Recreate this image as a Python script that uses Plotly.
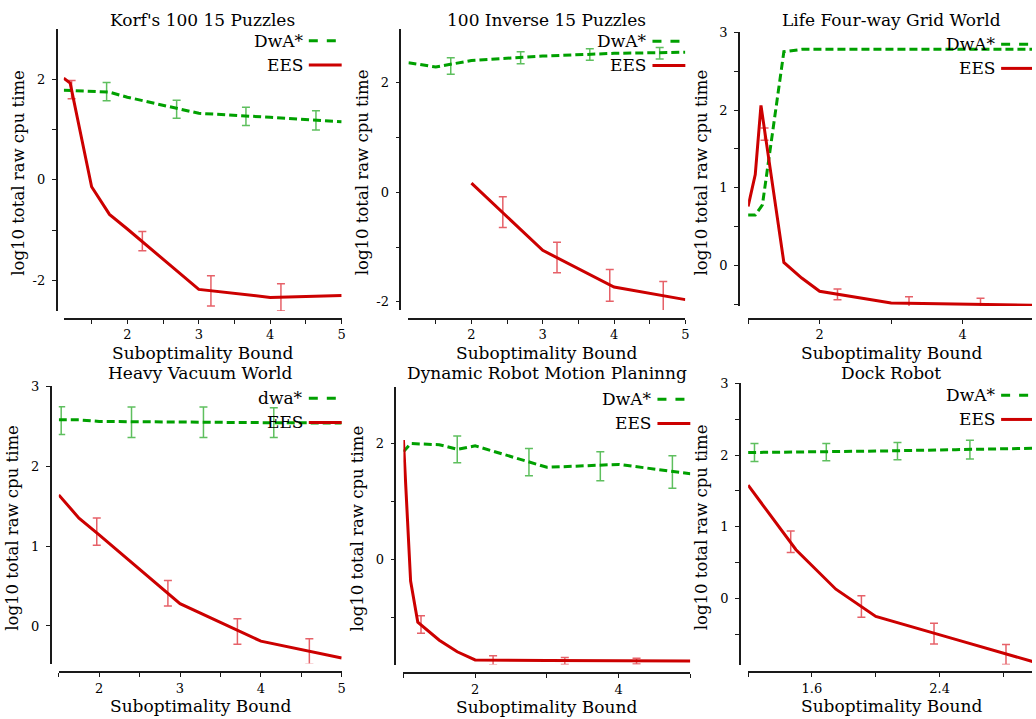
import plotly.graph_objects as go

# ---------------- data ----------------
TITLES = ["Korf's 100 15 Puzzles", "100 Inverse 15 Puzzles", "Life Four-way Grid World",
          "Heavy Vacuum World", "Dynamic Robot Motion Planinng", "Dock Robot"]
DWA_NAMES = ["DwA*", "DwA*", "DwA*", "dwa*", "DwA*", "DwA*"]
EES_NAME = "EES"
X_TITLE = "Suboptimality Bound"
Y_TITLE = "log10 total raw cpu time"

# Korf's 100 15 Puzzles
KORF_DWA_X = [1.11, 1.75, 2, 3, 4, 5]
KORF_DWA_Y = [1.78, 1.74, 1.64, 1.32, 1.24, 1.15]
KORF_DWA_ERR_X = [1.71, 2.69, 3.66, 4.64]
KORF_DWA_ERR_Y = [1.75, 1.40, 1.26, 1.18]
KORF_DWA_ERR = [0.18, 0.18, 0.18, 0.19]
KORF_EES_X = [1.11, 1.2, 1.5, 1.75, 2, 3, 4, 5]
KORF_EES_Y = [2.02, 1.92, -0.14, -0.69, -0.98, -2.18, -2.34, -2.30]
KORF_EES_ERR_X = [1.22, 2.21, 3.17, 4.15]
KORF_EES_ERR_Y = [1.79, -1.22, -2.21, -2.34]
KORF_EES_ERR = [0.18, 0.19, 0.30, 0.27]

# 100 Inverse 15 Puzzles
INV_DWA_X = [1.116, 1.5, 2, 3, 4, 5]
INV_DWA_Y = [2.37, 2.29, 2.41, 2.49, 2.54, 2.56]
INV_DWA_ERR_X = [1.71, 2.69, 3.66, 4.64]
INV_DWA_ERR_Y = [2.31, 2.46, 2.52, 2.54]
INV_DWA_ERR = [0.15, 0.11, 0.105, 0.105]
INV_EES_X = [2, 3, 4, 5]
INV_EES_Y = [0.17, -1.06, -1.73, -1.96]
INV_EES_ERR_X = [2.44, 3.20, 3.94, 4.69]
INV_EES_ERR_Y = [-0.36, -1.19, -1.70, -1.90]
INV_EES_ERR = [0.28, 0.28, 0.29, 0.27]

# Life Four-way Grid World
LIFE_DWA_X = [1.0, 1.1, 1.2, 1.5, 1.75, 2, 3, 4, 5]
LIFE_DWA_Y = [0.65, 0.65, 0.78, 2.75, 2.78, 2.78, 2.78, 2.78, 2.78]
LIFE_DWA_ERR_X = []
LIFE_DWA_ERR_Y = []
LIFE_DWA_ERR = []
LIFE_EES_X = [1.0, 1.1, 1.18, 1.5, 1.75, 2, 3, 4, 5]
LIFE_EES_Y = [0.76, 1.17, 2.06, 0.04, -0.16, -0.33, -0.48, -0.50, -0.51]
LIFE_EES_ERR_X = [1.23, 2.25, 3.25, 4.25]
LIFE_EES_ERR_Y = [1.69, -0.37, -0.48, -0.50]
LIFE_EES_ERR = [0.08, 0.07, 0.08, 0.08]

# Heavy Vacuum World
VAC_DWA_X = [1.5, 1.75, 2, 3, 4, 5]
VAC_DWA_Y = [2.58, 2.58, 2.56, 2.55, 2.545, 2.54]
VAC_DWA_ERR_X = [1.53, 2.40, 3.29, 4.16]
VAC_DWA_ERR_Y = [2.57, 2.55, 2.55, 2.545]
VAC_DWA_ERR = [0.175, 0.19, 0.19, 0.185]
VAC_EES_X = [1.5, 1.75, 2, 3, 4, 5]
VAC_EES_Y = [1.64, 1.35, 1.14, 0.28, -0.19, -0.40]
VAC_EES_ERR_X = [1.97, 2.85, 3.71, 4.60]
VAC_EES_ERR_Y = [1.18, 0.41, -0.07, -0.32]
VAC_EES_ERR = [0.17, 0.16, 0.16, 0.16]

# Dynamic Robot Motion Planning
DYN_DWA_X = [1.0, 1.1, 1.5, 1.75, 2, 3, 4, 5]
DYN_DWA_Y = [1.86, 2.0, 1.98, 1.90, 1.96, 1.59, 1.64, 1.48]
DYN_DWA_ERR_X = [1.75, 2.75, 3.745, 4.75]
DYN_DWA_ERR_Y = [1.90, 1.68, 1.61, 1.51]
DYN_DWA_ERR = [0.23, 0.235, 0.25, 0.28]
DYN_EES_X = [1.0, 1.1, 1.2, 1.5, 1.75, 2, 3, 4, 5]
DYN_EES_Y = [2.06, -0.37, -1.08, -1.39, -1.59, -1.73, -1.74, -1.74, -1.75]
DYN_EES_ERR_X = [1.245, 2.25, 3.25, 4.25]
DYN_EES_ERR_Y = [-1.12, -1.74, -1.75, -1.75]
DYN_EES_ERR = [0.15, 0.08, 0.06, 0.05]

# Dock Robot
DOCK_DWA_X = [1.2, 1.5, 2.0, 2.5, 3.0]
DOCK_DWA_Y = [2.035, 2.04, 2.055, 2.075, 2.095]
DOCK_DWA_ERR_X = [1.24, 1.69, 2.136, 2.59]
DOCK_DWA_ERR_Y = [2.035, 2.04, 2.055, 2.075]
DOCK_DWA_ERR = [0.125, 0.12, 0.12, 0.13]
DOCK_EES_X = [1.2, 1.5, 1.75, 2.0, 2.5, 3.0]
DOCK_EES_Y = [1.58, 0.68, 0.13, -0.25, -0.57, -0.89]
DOCK_EES_ERR_X = [1.467, 1.91, 2.365, 2.816]
DOCK_EES_ERR_Y = [0.79, -0.11, -0.49, -0.78]
DOCK_EES_ERR = [0.15, 0.15, 0.145, 0.14]

# Tick marks / labels per panel
X_TICKS = [[1.5, 2, 2.5, 3, 3.5, 4, 4.5, 5], [1.5, 2, 2.5, 3, 3.5, 4, 4.5, 5], [1, 2, 3, 4, 5],
           [1.5, 2, 2.5, 3, 3.5, 4, 4.5, 5], [1, 2, 3, 4, 5], [1.2, 1.6, 2.0, 2.4, 2.8]]
X_LABELS = [["", "2", "", "3", "", "4", "", "5"], ["", "2", "", "3", "", "4", "", "5"],
            ["", "2", "", "4", ""], ["", "2", "", "3", "", "4", "", "5"],
            ["", "2", "", "4", ""], ["", "1.6", "", "2.4", ""]]
Y_TICKS = [[-2, -1, 0, 1, 2], [-2, -1, 0, 1, 2], [-0.5, 0, 0.5, 1, 1.5, 2, 2.5, 3],
           [0, 1, 2, 3], [-1, 0, 1, 2], [-0.5, 0, 0.5, 1, 1.5, 2, 2.5, 3]]
Y_LABELS = [["-2", "", "0", "", "2"], ["-2", "", "0", "", "2"],
            ["", "0", "", "1", "", "2", "", "3"], ["0", "1", "2", "3"],
            ["", "0", "", "2"], ["", "0", "", "1", "", "2", "", "3"]]

SERIES = [
    (KORF_DWA_X, KORF_DWA_Y, KORF_DWA_ERR_X, KORF_DWA_ERR_Y, KORF_DWA_ERR,
     KORF_EES_X, KORF_EES_Y, KORF_EES_ERR_X, KORF_EES_ERR_Y, KORF_EES_ERR),
    (INV_DWA_X, INV_DWA_Y, INV_DWA_ERR_X, INV_DWA_ERR_Y, INV_DWA_ERR,
     INV_EES_X, INV_EES_Y, INV_EES_ERR_X, INV_EES_ERR_Y, INV_EES_ERR),
    (LIFE_DWA_X, LIFE_DWA_Y, LIFE_DWA_ERR_X, LIFE_DWA_ERR_Y, LIFE_DWA_ERR,
     LIFE_EES_X, LIFE_EES_Y, LIFE_EES_ERR_X, LIFE_EES_ERR_Y, LIFE_EES_ERR),
    (VAC_DWA_X, VAC_DWA_Y, VAC_DWA_ERR_X, VAC_DWA_ERR_Y, VAC_DWA_ERR,
     VAC_EES_X, VAC_EES_Y, VAC_EES_ERR_X, VAC_EES_ERR_Y, VAC_EES_ERR),
    (DYN_DWA_X, DYN_DWA_Y, DYN_DWA_ERR_X, DYN_DWA_ERR_Y, DYN_DWA_ERR,
     DYN_EES_X, DYN_EES_Y, DYN_EES_ERR_X, DYN_EES_ERR_Y, DYN_EES_ERR),
    (DOCK_DWA_X, DOCK_DWA_Y, DOCK_DWA_ERR_X, DOCK_DWA_ERR_Y, DOCK_DWA_ERR,
     DOCK_EES_X, DOCK_EES_Y, DOCK_EES_ERR_X, DOCK_EES_ERR_Y, DOCK_EES_ERR),
]

# ---------------- layout geometry (pixels) ----------------
W, H = 1036, 719
# y-axis line x, y-axis top, y-axis bottom, x-axis line y, x-axis left, x-axis right
GEOM = [
    (57, 22, 307, 315, 64, 343),
    (402, 22.5, 306, 315, 410, 688),
    (742, 25.5, 302, 315, 751, 1036),
    (51, 383, 663, 672, 59, 343),
    (397, 384, 664, 673, 405, 693),
    (743, 380, 664, 672, 751, 1036),
]
TITLE_Y = [13, 13, 13, 370, 370, 370]
X_RANGES = [[1.11, 5], [1.116, 5], [1.0, 4.97], [1.5, 5], [1.0, 5.0], [1.2, 2.979]]
Y_RANGES = [[-2.61, 3.0], [-2.15, 2.98], [-0.52, 3.0], [-0.47, 3.0], [-1.81, 2.97], [-0.92, 3.0]]

GREEN = "#00a000"
RED = "#cc0000"
GREEN_ERR = "rgba(40,170,40,0.75)"
RED_ERR = "rgba(220,30,40,0.7)"
FONT = "DejaVu Serif"


def px(x):
    return x / W


def py(y):
    return 1 - y / H


fig = go.Figure()
layout = dict(width=W, height=H, margin=dict(l=0, r=0, t=0, b=0),
              paper_bgcolor="white", plot_bgcolor="white", showlegend=False,
              font=dict(family=FONT, color="black"))
annotations = []
shapes = []

for i in range(6):
    yl, yt, yb, xl, x0, x1 = GEOM[i]
    xa = "x" if i == 0 else f"x{i + 1}"
    ya = "y" if i == 0 else f"y{i + 1}"
    xkey = "xaxis" if i == 0 else f"xaxis{i + 1}"
    ykey = "yaxis" if i == 0 else f"yaxis{i + 1}"
    layout[xkey] = dict(domain=[px(x0), px(x1)], anchor="free", position=py(xl),
                        range=X_RANGES[i], showgrid=False, zeroline=False,
                        showline=True, linecolor="#1a1a1a", linewidth=1.8,
                        ticks="outside", ticklen=4, tickwidth=1.3, tickcolor="#1a1a1a",
                        tickvals=X_TICKS[i], ticktext=X_LABELS[i],
                        tickfont=dict(family=FONT, size=13), ticklabelstandoff=0)
    layout[ykey] = dict(domain=[py(yb), py(yt)], anchor="free", position=px(yl),
                        range=Y_RANGES[i], showgrid=False, zeroline=False,
                        showline=True, linecolor="#1a1a1a", linewidth=1.8,
                        ticks="outside", ticklen=4, tickwidth=1.3, tickcolor="#1a1a1a",
                        tickvals=Y_TICKS[i], ticktext=Y_LABELS[i],
                        tickfont=dict(family=FONT, size=13), ticklabelstandoff=4)

    dx, dy, dex, dey, de, ex, ey, eex, eey, ee = SERIES[i]

    # error bars
    if dex:
        fig.add_trace(go.Scatter(x=dex, y=dey, xaxis=xa, yaxis=ya, mode="markers",
                                 marker=dict(size=1, color="rgba(0,0,0,0)"),
                                 error_y=dict(type="data", array=de, color=GREEN_ERR,
                                              thickness=1.5, width=4),
                                 hoverinfo="skip"))
    fig.add_trace(go.Scatter(x=eex, y=eey, xaxis=xa, yaxis=ya, mode="markers",
                             marker=dict(size=1, color="rgba(0,0,0,0)"),
                             error_y=dict(type="data", array=ee, color=RED_ERR,
                                          thickness=1.5, width=4),
                             hoverinfo="skip"))
    # mean curves
    fig.add_trace(go.Scatter(x=dx, y=dy, xaxis=xa, yaxis=ya, mode="lines",
                             name=DWA_NAMES[i],
                             line=dict(color=GREEN, width=3, dash="8px,4px")))
    fig.add_trace(go.Scatter(x=ex, y=ey, xaxis=xa, yaxis=ya, mode="lines",
                             name=EES_NAME, line=dict(color=RED, width=3)))

    # panel title
    xc = (x0 + x1) / 2 if i % 3 != 2 else (x0 + 1038) / 2
    annotations.append(dict(text=TITLES[i], x=px(xc), y=py(TITLE_Y[i]), xref="paper", yref="paper",
                            showarrow=False, xanchor="center", yanchor="middle",
                            font=dict(family=FONT, size=17)))
    # x-axis title
    annotations.append(dict(text=X_TITLE, x=px(xc), y=py(xl + 34), xref="paper", yref="paper",
                            showarrow=False, xanchor="center", yanchor="middle",
                            font=dict(family=FONT, size=17)))
    # y-axis title
    annotations.append(dict(text=Y_TITLE, x=px(yl - 38), y=py((yt + yb) / 2 + 3),
                            xref="paper", yref="paper", showarrow=False, textangle=-90,
                            xanchor="center", yanchor="middle",
                            font=dict(family=FONT, size=16.5)))
    # legend
    xend = x1 if i % 3 != 2 else 1038
    for k, (label, color, dash) in enumerate([(DWA_NAMES[i], GREEN, "dash"), (EES_NAME, RED, "solid")]):
        ly = yt + 12 + 24.5 * k
        annotations.append(dict(text=label, x=px(xend - 37), y=py(ly), xref="paper", yref="paper",
                                showarrow=False, xanchor="right", yanchor="middle",
                                font=dict(family=FONT, size=17)))
        shapes.append(dict(type="line", xref="paper", yref="paper",
                           x0=px(xend - 33), x1=px(min(xend, W)), y0=py(ly), y1=py(ly),
                           line=dict(color=color, width=3, dash=dash)))

layout["annotations"] = annotations
layout["shapes"] = shapes
fig.update_layout(**layout)
fig.write_html("out.html")
